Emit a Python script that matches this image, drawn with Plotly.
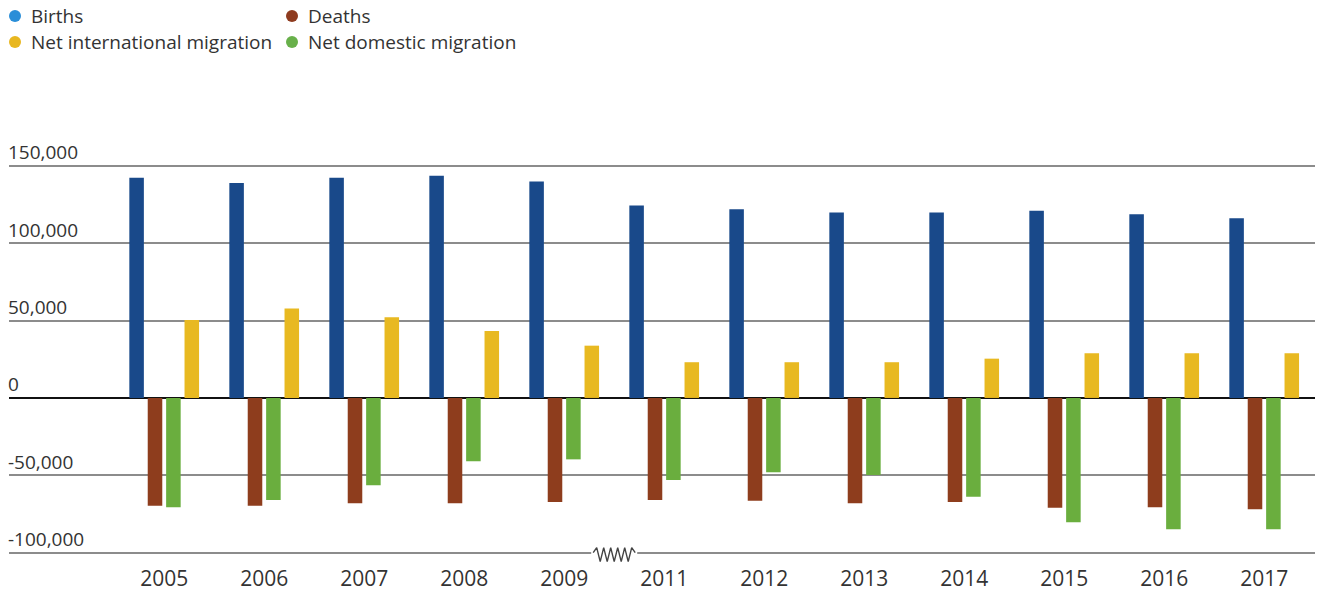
import plotly.graph_objects as go

# Components of population change by year (2010 omitted, axis break shown)
years = ["2005", "2006", "2007", "2008", "2009", "2011", "2012", "2013", "2014", "2015", "2016", "2017"]
births = [142300, 138900, 142300, 143600, 139900, 124400, 122000, 119900, 119900, 121000, 118800, 116200]
deaths = [-69700, -69700, -68100, -68100, -67300, -66000, -66400, -68100, -67300, -71000, -70700, -72000]
net_domestic = [-70700, -66000, -56500, -40900, -39700, -53000, -48100, -49800, -63800, -80400, -84900, -84900]
net_international = [50400, 57800, 52200, 43300, 33800, 23100, 23100, 23100, 25400, 28900, 28900, 28900]

y_ticks = [-100000, -50000, 0, 50000, 100000, 150000]
y_tick_text = ["-100,000", "-50,000", "0", "50,000", "100,000", "150,000"]

BAR_COLORS = {"Births": "#19498a", "Deaths": "#8e3d1d", "Net domestic migration": "#6aae3e",
              "Net international migration": "#e8b921"}
DOT_COLORS = {"Births": "#2a8ed8", "Deaths": "#8e3b1f", "Net international migration": "#e8b720",
              "Net domestic migration": "#68b04a"}
FONT = "Open Sans"
TEXT = "#333333"

W, H = 1317, 592
M_L, M_R, M_T, M_B = 9, 2, 135, 27
Y_RANGE = [-108000, 170000]
plot_h = H - M_T - M_B
plot_w = W - M_L - M_R
px_per_unit = plot_h / (Y_RANGE[1] - Y_RANGE[0])


def paper_x(px):
    return (px - M_L) / plot_w


def paper_y(py):
    return 1 + (M_T - py) / plot_h


x = list(range(len(years)))
fig = go.Figure()

for name, vals in [("Births", births), ("Deaths", deaths),
                   ("Net domestic migration", net_domestic),
                   ("Net international migration", net_international)]:
    fig.add_trace(go.Bar(x=x, y=vals, name=name, marker_color=BAR_COLORS[name],
                         marker_line_width=0, showlegend=False))

# Axis break between 2009 and 2011 on the bottom line
brk_x = [4.29, 4.325, 4.36, 4.395, 4.43, 4.465, 4.5, 4.535, 4.57, 4.605, 4.64, 4.675, 4.71]
brk_off = [0, 5, -9, 5, -9, 5, -9, 5, -9, 5, -9, 5, 0]
fig.add_trace(go.Scatter(x=[4.27, 4.73], y=[-100000, -100000], mode="lines",
                         line=dict(color="white", width=4), showlegend=False, hoverinfo="skip"))
fig.add_trace(go.Scatter(x=brk_x, y=[-100000 + o / px_per_unit for o in brk_off], mode="lines",
                         line=dict(color="#444444", width=1.4), showlegend=False, hoverinfo="skip"))

# Legend: coloured dots with labels in two columns above the chart
legend_items = [("Births", 15, 16), ("Net international migration", 15, 42),
                ("Deaths", 292, 16), ("Net domestic migration", 292, 42)]
shapes, annotations = [], []
for name, cx, cy in legend_items:
    shapes.append(dict(type="circle", xref="paper", yref="paper",
                       xsizemode="pixel", ysizemode="pixel",
                       xanchor=paper_x(cx), yanchor=paper_y(cy),
                       x0=-6, x1=6, y0=-6, y1=6,
                       fillcolor=DOT_COLORS[name], line_width=0))
    annotations.append(dict(text=name, xref="paper", yref="paper",
                            x=paper_x(cx + 14), y=paper_y(cy), xanchor="left", yanchor="middle",
                            showarrow=False, font=dict(size=19, color=TEXT, family=FONT)))

fig.update_layout(
    width=W, height=H,
    margin=dict(l=M_L, r=M_R, t=M_T, b=M_B, autoexpand=False),
    paper_bgcolor="white", plot_bgcolor="white",
    barmode="group", bargap=0.264, bargroupgap=0.21,
    font=dict(family=FONT, color=TEXT),
    showlegend=False,
    shapes=shapes, annotations=annotations,
    xaxis=dict(range=[-1.552, 11.508], tickvals=x, ticktext=years, showgrid=False,
               showline=False, zeroline=False, ticks="", ticklabelstandoff=-1,
               automargin=False,
               tickfont=dict(size=21, color=TEXT, family=FONT)),
    yaxis=dict(range=Y_RANGE, tickvals=y_ticks, ticktext=y_tick_text,
               showgrid=True, gridcolor="#8c8c8c", gridwidth=1.5,
               zeroline=True, zerolinecolor="#111111", zerolinewidth=2.2,
               showline=False, ticks="", ticklabelposition="inside top",
               ticklabelstandoff=-4, automargin=False,
               tickfont=dict(size=19, color=TEXT, family=FONT)),
)

fig.write_html("out.html")
